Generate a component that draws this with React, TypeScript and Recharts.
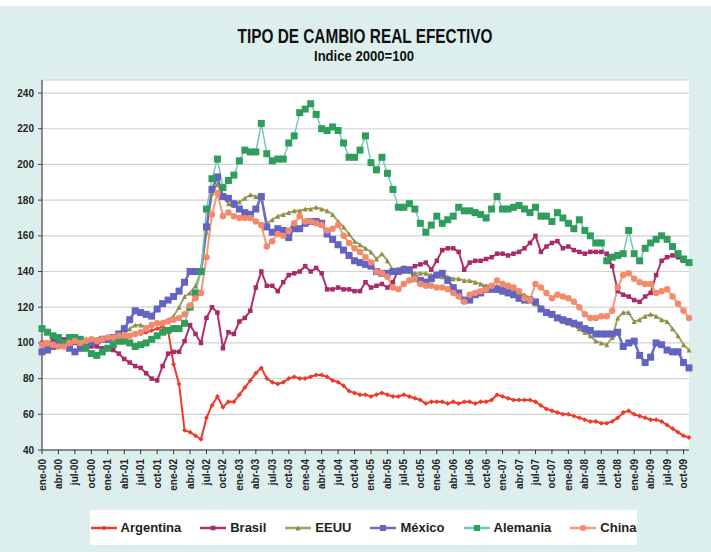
import React from 'react';
import { LineChart, Line, XAxis, YAxis, CartesianGrid } from 'recharts';

const MONTHS = ['ene', 'feb', 'mar', 'abr', 'may', 'jun', 'jul', 'ago', 'sep', 'oct', 'nov', 'dic'];
const YEARS = ['00', '01', '02', '03', '04', '05', '06', '07', '08', '09'];
const N_POINTS = 119; // ene-00 .. nov-09

const Y_TICKS = [40, 60, 80, 100, 120, 140, 160, 180, 200, 220, 240];

const ARGENTINA = [
  100, 99, 100, 101, 101, 102, 102, 101, 102, 101, 101, 102,
  102, 103, 104, 104, 104, 105, 105, 106, 107, 108, 109, 107,
  88, 77, 51, 50, 48, 46, 58, 65, 70, 64, 67, 67,
  71, 75, 79, 83, 86, 80, 78, 77, 78, 80, 81, 80,
  80, 81, 82, 82, 81, 79, 78, 76, 73, 72, 71, 71,
  70, 71, 72, 71, 70, 70, 71, 70, 69, 68, 66, 67,
  67, 67, 66, 67, 66, 67, 67, 66, 67, 67, 68, 71,
  70, 69, 68, 68, 68, 68, 67, 65, 63, 62, 61, 60,
  60, 59, 58, 57, 56, 56, 55, 55, 56, 58, 61, 62,
  60, 59, 58, 57, 57, 56, 54, 52, 50, 48, 47,
];

const BRASIL = [
  100, 100, 101, 102, 102, 101, 100, 100, 99, 98, 98, 97,
  97, 96, 94, 91, 89, 87, 86, 83, 80, 79, 87, 94,
  95, 95, 101, 110, 105, 100, 114, 120, 117, 97, 106, 105,
  112, 114, 118, 131, 140, 132, 132, 129, 134, 138, 139, 140,
  143, 140, 142, 139, 130, 130, 131, 130, 130, 129, 129, 134,
  131, 132, 133, 131, 134, 141, 142, 141, 143, 144, 145, 141,
  146, 152, 153, 153, 151, 141, 145, 146, 146, 147, 148, 150,
  150, 149, 150, 151, 153, 156, 160, 151, 154, 156, 157, 153,
  154, 152, 151, 150, 151, 151, 151, 150, 143, 129, 127, 126,
  124, 123, 126, 128, 138, 146, 148, 149, 148, 146, 145,
];

const EEUU = [
  100, 99, 100, 101, 100, 101, 101, 101, 102, 102, 102, 103,
  103, 103, 104, 105, 108, 110, 110, 109, 110, 111, 112, 113,
  115, 120, 126, 128, 132, 140, 162, 184, 189, 182, 178, 177,
  179, 181, 183, 182, 181, 167, 169, 171, 172, 173, 174, 174,
  175, 175, 176, 175, 174, 172, 168, 165, 161, 157, 155, 153,
  151, 147, 150, 146, 141, 141, 140, 140, 139, 139, 139, 138,
  138, 137, 137, 136, 136, 135, 135, 134, 133, 132, 132, 132,
  131, 130, 130, 128, 127, 125, 122, 120, 118, 116, 114, 112,
  111, 110, 108, 106, 104, 101, 100, 99, 103, 114, 117, 117,
  112, 113, 115, 116, 115, 113, 112, 108, 104, 99, 96,
];

const MEXICO = [
  95, 96, 98, 99, 100, 97, 95, 97, 99, 100, 101, 102,
  102, 103, 105, 108, 113, 118, 117, 116, 115, 119, 122, 124,
  126, 129, 134, 140, 140, 140, 165, 186, 193, 182, 181, 178,
  175, 173, 172, 175, 182, 165, 162, 164, 163, 159, 164, 164,
  167, 168, 168, 167, 161, 158, 155, 152, 149, 146, 145, 144,
  143, 140, 139, 139, 140, 140, 141, 141, 136, 135, 134, 136,
  138, 139, 135, 131, 128, 124, 124, 127, 128, 130, 130, 130,
  129, 128, 127, 125, 124, 124, 123, 119, 117, 116, 114, 113,
  112, 111, 110, 108, 107, 105, 105, 105, 105, 106, 98, 100,
  101, 93, 89, 92, 100, 99, 96, 95, 95, 89, 86,
];

const ALEMANIA = [
  108, 106, 104, 103, 100, 103, 103, 102, 97, 94, 93, 95,
  97, 99, 101, 101, 100, 98, 99, 100, 102, 104, 106, 107,
  108, 108, 111, 120, 128, 140, 175, 192, 203, 187, 191, 194,
  202, 208, 207, 207, 223, 206, 202, 203, 203, 212, 216, 229,
  231, 234, 228, 220, 219, 221, 219, 212, 204, 204, 208, 216,
  201, 197, 204, 195, 186, 176, 176, 178, 175, 167, 162, 166,
  171, 167, 169, 171, 176, 174, 174, 173, 172, 170, 175, 182,
  175, 175, 176, 177, 175, 173, 176, 171, 171, 168, 173, 170,
  167, 164, 169, 163, 160, 156, 156, 146, 148, 149, 150, 163,
  150, 146, 153, 156, 158, 160, 158, 154, 150, 147, 145,
];

const CHINA = [
  99, 100, 99, 98, 98, 100, 101, 100, 101, 102, 101, 102,
  103, 103, 104, 104, 104, 105, 106, 108, 110, 111, 111, 112,
  113, 114, 116, 121, 125, 128, 148, 172, 184, 171, 173, 171,
  170, 170, 170, 168, 166, 154, 157, 161, 160, 163, 167, 171,
  168, 168, 167, 166, 163, 164, 166, 160, 156, 153, 151, 148,
  145, 140, 139, 137, 131, 130, 133, 135, 136, 133, 132, 132,
  131, 131, 130, 128, 126, 123, 127, 128, 129, 130, 132, 135,
  133, 132, 131, 129, 125, 124, 133, 131, 128, 125, 127, 126,
  125, 123, 120, 116, 114, 114, 115, 115, 118, 131, 138, 139,
  136, 134, 133, 133, 128, 129, 130, 126, 122, 118, 114,
];

const CATEGORIES: string[] = [];
for (const y of YEARS) {
  for (const m of MONTHS) {
    if (CATEGORIES.length < N_POINTS) CATEGORIES.push(`${m}-${y}`);
  }
}

const SERIES = [
  { name: 'Argentina', values: ARGENTINA, line: '#ee3a2a', marker: '#ee3a2a', shape: 'diamond', size: 5, width: 2 },
  { name: 'Brasil', values: BRASIL, line: '#b0306f', marker: '#a82a68', shape: 'square', size: 4.5, width: 2 },
  { name: 'EEUU', values: EEUU, line: '#a3a15e', marker: '#8f8d48', shape: 'triangle', size: 5, width: 2 },
  { name: 'México', values: MEXICO, line: '#6b6bc6', marker: '#6363c2', shape: 'square', size: 7, width: 2.5 },
  { name: 'Alemania', values: ALEMANIA, line: '#74c9bc', marker: '#2f9e5c', shape: 'square', size: 7, width: 1.5 },
  { name: 'China', values: CHINA, line: '#f59a72', marker: '#f38a6c', shape: 'circle', size: 6.5, width: 2 },
];

const data = CATEGORIES.map((mes, i) => {
  const row: Record<string, any> = { mes };
  SERIES.forEach((s) => { row[s.name] = s.values[i]; });
  return row;
});

const FONT = "'Liberation Sans', Arial, sans-serif";

function markerShape(shape: string, cx: number, cy: number, size: number, fill: string, key?: string) {
  const h = size / 2;
  if (shape === 'square') return <rect key={key} x={cx - h} y={cy - h} width={size} height={size} fill={fill} />;
  if (shape === 'circle') return <circle key={key} cx={cx} cy={cy} r={h} fill={fill} />;
  if (shape === 'triangle') return <polygon key={key} points={`${cx},${cy - h} ${cx + h},${cy + h} ${cx - h},${cy + h}`} fill={fill} />;
  return <polygon key={key} points={`${cx},${cy - h} ${cx + h},${cy} ${cx},${cy + h} ${cx - h},${cy}`} fill={fill} />;
}

const makeDot = (shape: string, size: number, fill: string) => (props: any) => {
  const { cx, cy, index } = props;
  if (cx == null || cy == null) return <g key={`e-${index}`} />;
  return markerShape(shape, cx, cy, size, fill, `d-${index}`);
};

const XTick = (props: any) => {
  const { x, y, payload } = props;
  const ax = x + 3.5;
  const ay = y + 3;
  return (
    <text x={ax} y={ay} transform={`rotate(-90, ${ax}, ${ay})`} textAnchor="end"
      fontFamily={FONT} fontWeight="bold" fontSize={10} fill="#222">
      {payload.value}
    </text>
  );
};

export default function App() {
  return (
    <div style={{ position: 'absolute', left: 0, top: 0, width: 711, height: 552, background: '#ddefed', overflow: 'hidden' }}>
      <div style={{ position: 'absolute', left: 0, top: 0, width: 711, height: 6, background: '#ffffff' }} />
      <svg style={{ position: 'absolute', left: 0, top: 0 }} width={711} height={80}>
        <text x={365} y={43} textAnchor="middle" fontFamily={FONT} fontWeight="bold" fontSize={20}
          fill="#111" textLength={255} lengthAdjust="spacingAndGlyphs">TIPO DE CAMBIO REAL EFECTIVO</text>
        <text x={364} y={61} textAnchor="middle" fontFamily={FONT} fontWeight="bold" fontSize={14}
          fill="#111" textLength={100} lengthAdjust="spacingAndGlyphs">Indice 2000=100</text>
      </svg>
      <div style={{ position: 'absolute', left: 0, top: 0 }}>
        <LineChart width={711} height={552} data={data} margin={{ top: 80, right: 22, bottom: 42, left: 0 }}>
          <CartesianGrid horizontal vertical={false} stroke="#d2d2d2" strokeWidth={1.2} fill="#ffffff" />
          <XAxis dataKey="mes" interval={2} tickSize={4} height={60} tick={<XTick />}
            axisLine={{ stroke: '#333', strokeWidth: 1.2 }} tickLine={{ stroke: '#333' }} />
          <YAxis type="number" domain={[40, 247.3]} ticks={Y_TICKS} interval={0} allowDataOverflow width={42}
            tickSize={4} tickMargin={4} axisLine={{ stroke: '#444', strokeWidth: 1.2 }} tickLine={{ stroke: '#444' }}
            tick={{ fontFamily: FONT, fontWeight: 'bold', fontSize: 10, fill: '#222' }} />
          {SERIES.map((s) => (
            <Line key={s.name} type="linear" dataKey={s.name} stroke={s.line} strokeWidth={s.width}
              dot={makeDot(s.shape, s.size, s.marker)} activeDot={false} isAnimationActive={false} />
          ))}
        </LineChart>
      </div>
      <div style={{ position: 'absolute', left: 90, top: 510, width: 547, height: 35, background: '#ffffff',
        display: 'flex', alignItems: 'center', justifyContent: 'center', gap: 19 }}>
        {SERIES.map((s) => (
          <div key={s.name} style={{ display: 'flex', alignItems: 'center' }}>
            <svg width={26} height={12}>
              <line x1={0} y1={6} x2={26} y2={6} stroke={s.line} strokeWidth={2.5} />
              {markerShape(s.shape, 13, 6, Math.min(s.size, 6), s.marker)}
            </svg>
            <span style={{ marginLeft: 4, fontFamily: FONT, fontWeight: 'bold', fontSize: 13, color: '#222' }}>{s.name}</span>
          </div>
        ))}
      </div>
    </div>
  );
}
